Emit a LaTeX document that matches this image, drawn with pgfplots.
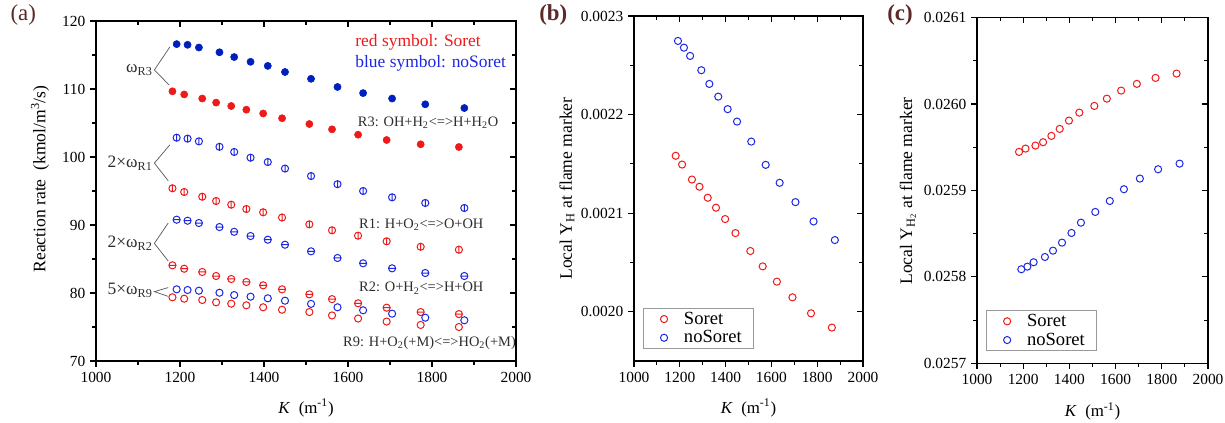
\documentclass[border=0pt]{standalone}
\usepackage{fontspec}
\setmainfont{Liberation Serif}
\usepackage{pgfplots}
\pgfplotsset{compat=1.18}
\usepackage{pgfplotstable}

\definecolor{sred}{RGB}{238,26,26}
\definecolor{sblue}{RGB}{28,40,225}
\definecolor{dblue}{RGB}{0,32,190}
\definecolor{plab}{RGB}{92,40,40}
\definecolor{anno}{RGB}{45,45,45}

% circle with vertical / horizontal bar
\pgfdeclareplotmark{overt}{%
  \pgfpathcircle{\pgfpointorigin}{\pgfplotmarksize}%
  \pgfpathmoveto{\pgfqpoint{0pt}{-\pgfplotmarksize}}%
  \pgfpathlineto{\pgfqpoint{0pt}{\pgfplotmarksize}}%
  \pgfusepathqstroke}
\pgfdeclareplotmark{ohorz}{%
  \pgfpathcircle{\pgfpointorigin}{\pgfplotmarksize}%
  \pgfpathmoveto{\pgfqpoint{-\pgfplotmarksize}{0pt}}%
  \pgfpathlineto{\pgfqpoint{\pgfplotmarksize}{0pt}}%
  \pgfusepathqstroke}

% Soret (red symbols)
\pgfplotstableread{
K     R3      R1     R2     R9     YH         YHtwo
1182  109.66  95.40  84.07  79.37  0.0021582  0.0259446
1210  109.20  94.85  83.57  79.16  0.0021493  0.0259484
1253  108.60  94.16  83.09  78.97  0.0021341  0.0259519
1286  108.00  93.53  82.50  78.63  0.0021268  0.0259558
1322  107.50  92.99  82.06  78.43  0.0021156  0.0259631
1358  106.96  92.35  81.62  78.19  0.0021055  0.0259712
1398  106.40  91.87  81.13  77.90  0.0020940  0.0259808
1443  105.70  91.10  80.54  77.54  0.0020798  0.0259900
1508  104.85  90.10  79.80  77.20  0.0020616  0.0259978
1562  104.07  89.22  79.10  76.70  0.0020460  0.0260062
1624  103.28  88.43  78.49  76.25  0.0020305  0.0260155
1692  102.50  87.60  77.84  75.80  0.0020146  0.0260233
1773  101.87  86.80  77.20  75.30  0.0019984  0.0260302
1864  101.47  86.37  76.90  75.00  0.0019839  0.0260352
}\soret

% noSoret (blue symbols)
\pgfplotstableread{
K     R3      R1      R2     R9     YH         YHtwo
1192  116.60  102.84  90.78  80.54  0.0022747  0.0258088
1218  116.50  102.70  90.63  80.44  0.0022679  0.0258118
1245  116.10  102.30  90.29  80.34  0.0022595  0.0258169
1294  115.40  101.50  89.70  80.04  0.0022450  0.0258230
1329  114.70  100.74  89.00  79.70  0.0022311  0.0258303
1368  114.00   99.90  88.38  79.46  0.0022182  0.0258396
1409  113.40   99.26  87.84  79.22  0.0022055  0.0258508
1450  112.50   98.30  87.10  78.87  0.0021929  0.0258627
1512  111.50   97.20  86.13  78.40  0.0021726  0.0258751
1575  110.30   96.00  85.15  77.90  0.0021490  0.0258878
1636  109.40   95.00  84.37  77.46  0.0021308  0.0259014
1705  108.60   94.07  83.63  76.96  0.0021112  0.0259137
1784  107.75   93.24  82.94  76.37  0.0020916  0.0259245
1877  107.20   92.50  82.50  75.99  0.0020727  0.0259310
}\nosoret

\pgfplotsset{
  frame/.style={scale only axis, xmin=1000, xmax=2000,
    xtick={1000,1200,...,2000}, minor x tick num=1, minor y tick num=1,
    axis line style={line width=0.9pt}, every tick/.style={black, line width=0.8pt},
    major tick length=4pt, minor tick length=2.5pt,
    tick label style={font=\fontsize{10.8}{12}\selectfont},
    /pgf/number format/assume math mode=true, /pgf/number format/1000 sep={},
    scaled y ticks=false},
  lower/.style={frame, tick align=outside, tick pos=left},
  upper/.style={frame, tick align=inside, tick pos=right, xticklabels={}, yticklabels={}},
  yfour/.style={yticklabel style={/pgf/number format/.cd, fixed, fixed zerofill, precision=4}},
  redo/.style={only marks, mark=o, mark size=2.5pt, sred, mark options={line width=0.7pt}},
  blueo/.style={only marks, mark=o, mark size=2.5pt, sblue, mark options={line width=0.7pt}},
  leg/.style={legend style={at={(0.039,0.035)}, anchor=south west, draw=gray!80,
    line width=0.5pt, font=\fontsize{13}{14}\selectfont, inner xsep=6pt, inner ysep=0.5pt,
    row sep=-1pt}, legend cell align=left,
    legend image code/.code={%
      \path[draw=none, fill=none] (0cm,0cm) -- (0.72cm,0cm);
      \draw[##1, only marks] plot coordinates {(0.3cm,0cm)};}},
  xlab/.style={xlabel={\textit{K}\enspace(m\textsuperscript{-1})},
    xlabel style={font=\fontsize{11.8}{13}\selectfont, at={(axis description cs:0.5,#1)}, anchor=center}},
}

\begin{document}
\begin{tikzpicture}
\useasboundingbox (0,0) rectangle (857.5pt,295.4pt);

% ---------- (a) ----------
\begin{axis}[lower, clip mode=individual, at={(67.2pt,42.7pt)}, anchor=south west, width=294pt, height=238pt,
  ymin=70, ymax=120, ytick={70,80,...,120}, xlab=-0.138]
\addplot[only marks, mark=*, mark size=2.5pt, sred] table[x=K, y=R3] {\soret};
\addplot[only marks, mark=*, mark size=2.5pt, dblue] table[x=K, y=R3] {\nosoret};
\addplot[only marks, mark=overt, mark size=2.5pt, sred, line width=0.7pt] table[x=K, y=R1] {\soret};
\addplot[only marks, mark=overt, mark size=2.5pt, sblue, line width=0.7pt] table[x=K, y=R1] {\nosoret};
\addplot[only marks, mark=ohorz, mark size=2.5pt, sred, line width=0.7pt] table[x=K, y=R2] {\soret};
\addplot[only marks, mark=ohorz, mark size=2.5pt, sblue, line width=0.7pt] table[x=K, y=R2] {\nosoret};
\addplot[redo] table[x=K, y=R9] {\soret};
\addplot[blueo] table[x=K, y=R9] {\nosoret};

\begin{scope}[every node/.style={anchor=west, inner sep=0pt, font=\fontsize{10.1}{12}\selectfont}]
\node[sred, font=\fontsize{12.2}{14}\selectfont] at (axis cs:1617,116.9) {red symbol: Soret};
\node[sblue, font=\fontsize{12.2}{14}\selectfont] at (axis cs:1617,113.8) {blue symbol: noSoret};
\node[anno] at (axis cs:1623,105.1) {R3: OH+H\textsubscript{2}<=>H+H\textsubscript{2}O};
\node[anno] at (axis cs:1626,90.1) {R1: H+O\textsubscript{2}<=>O+OH};
\node[anno] at (axis cs:1626,80.7) {R2: O+H\textsubscript{2}<=>H+OH};
\node[anno] at (axis cs:1588,72.7) {R9: H+O\textsubscript{2}(+M)<=>HO\textsubscript{2}(+M)};
\end{scope}

\begin{scope}[draw=gray!70!black, line width=0.5pt]
\draw (axis cs:1176,116.2) -- (axis cs:1139,112.8) -- (axis cs:1174,110.6);
\draw (axis cs:1176,101.8) -- (axis cs:1139,99.1) -- (axis cs:1172,96.5);
\draw (axis cs:1172,90.3) -- (axis cs:1139,87.3) -- (axis cs:1172,84.7);
\draw (axis cs:1172,80.8) -- (axis cs:1139,80.2) -- (axis cs:1172,79.5);
\end{scope}
\begin{scope}[every node/.style={anchor=east, inner sep=1pt, font=\fontsize{12.2}{14}\selectfont, anno}]
\node at (axis cs:1139,112.8) {ω\textsubscript{R3}};
\node at (axis cs:1139,99.1) {2×ω\textsubscript{R1}};
\node at (axis cs:1139,87.3) {2×ω\textsubscript{R2}};
\node at (axis cs:1139,80.4) {5×ω\textsubscript{R9}};
\end{scope}
\end{axis}
\begin{axis}[upper, at={(67.2pt,42.7pt)}, anchor=south west, width=294pt, height=238pt,
  ymin=70, ymax=120, ytick={70,80,...,120}]
\end{axis}

% ---------- (b) ----------
\begin{axis}[lower, yfour, leg, at={(443.8pt,42.7pt)}, anchor=south west, width=160.3pt, height=241.5pt,
  ymin=0.00195, ymax=0.0023, ytick={0.0020,0.0021,0.0022,0.0023}, xlab=-0.136]
\addplot[redo] table[x=K, y=YH] {\soret};
\addplot[blueo] table[x=K, y=YH] {\nosoret};
\legend{Soret, noSoret}
\end{axis}
\begin{axis}[upper, at={(443.8pt,42.7pt)}, anchor=south west, width=160.3pt, height=241.5pt,
  ymin=0.00195, ymax=0.0023, ytick={0.0020,0.0021,0.0022,0.0023}]
\end{axis}

% ---------- (c) ----------
\begin{axis}[lower, yfour, leg, at={(683.9pt,41.1pt)}, anchor=south west, width=161.7pt, height=242pt,
  ymin=0.0257, ymax=0.0261, ytick={0.0257,0.0258,0.0259,0.0260,0.0261}, xlab=-0.14]
\addplot[redo] table[x=K, y=YHtwo] {\soret};
\addplot[blueo] table[x=K, y=YHtwo] {\nosoret};
\legend{Soret, noSoret}
\end{axis}
\begin{axis}[upper, at={(683.9pt,41.1pt)}, anchor=south west, width=161.7pt, height=242pt,
  ymin=0.0257, ymax=0.0261, ytick={0.0257,0.0258,0.0259,0.0260,0.0261}]
\end{axis}

% y axis titles
\node[rotate=90, font=\fontsize{12.3}{14}\selectfont] at (28pt,170.1pt) {Reaction rate\enspace(kmol/m\textsuperscript{3}/s)};
\node[rotate=90, font=\fontsize{12.3}{14}\selectfont] at (396.9pt,163.4pt) {Local Y\textsubscript{H} at flame marker};
\node[rotate=90, font=\fontsize{12.3}{14}\selectfont] at (635.6pt,161.7pt) {Local Y\textsubscript{H\textsubscript{2}} at flame marker};

% panel letters
\node[plab, font=\fontsize{16}{18}\selectfont] at (16.3pt,284.9pt) {(a)};
\node[plab, font=\bfseries\fontsize{16}{18}\selectfont] at (387.3pt,284.9pt) {(b)};
\node[plab, font=\bfseries\fontsize{16}{18}\selectfont] at (630pt,284.9pt) {(c)};
\end{tikzpicture}
\end{document}
